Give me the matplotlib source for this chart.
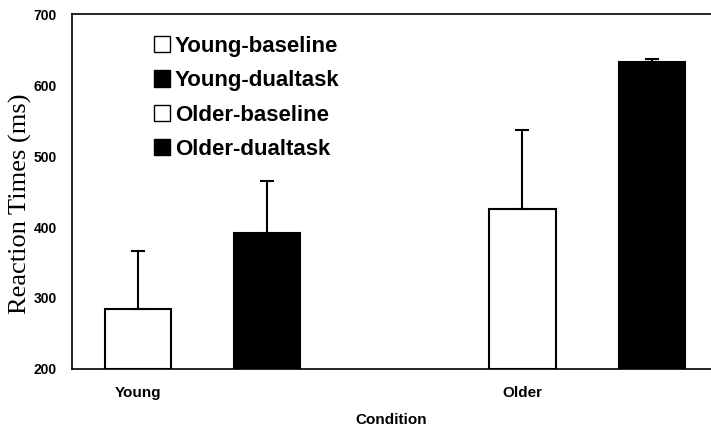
import matplotlib
matplotlib.use("Agg")
import matplotlib.pyplot as plt
from matplotlib.patches import Patch
import numpy as np

groups = ["Young", "Older"]
series = ["Young-baseline", "Young-dualtask", "Older-baseline", "Older-dualtask"]
means = [284, 391, 425, 632]
errors = [82, 74, 112, 5]
colors = ["white", "black", "white", "black"]
bar_group = [0, 0, 1, 1]
bar_offset = [-1, 1, -1, 1]
yticks = [200, 300, 400, 500, 600, 700]

fig = plt.figure(figsize=(7.11, 4.30), dpi=100)
ax = fig.add_axes([0.101, 0.142, 0.899, 0.825])

off = 0.168
width = 0.172
xs = [g + o * off for g, o in zip(bar_group, bar_offset)]
for x, m, e, c in zip(xs, means, errors, colors):
    ax.bar(x, m - 200, bottom=200, width=width, color=c, edgecolor="black", linewidth=1.5, zorder=2)
    ax.errorbar(x, m, yerr=[[0], [e]], fmt="none", ecolor="black", elinewidth=1.5, capsize=5, capthick=1.5, zorder=3)

ax.set_ylim(200, 700)
ax.set_xlim(-0.339, 1.322)
ax.set_yticks(yticks)
ax.set_yticklabels([str(t) for t in yticks], fontweight="bold", fontsize=10, family="Liberation Sans")
ax.tick_params(axis="y", length=0, pad=11)
ax.tick_params(axis="x", length=0, pad=12)
ax.set_xticks([g - off for g in range(len(groups))])
ax.set_xticklabels(groups, fontweight="bold", fontsize=11, family="Liberation Sans")
ax.spines["right"].set_visible(False)
for s in ["left", "top", "bottom"]:
    ax.spines[s].set_linewidth(1.2)
ax.set_ylabel("Reaction Times (ms)", family="Liberation Serif", fontsize=19)
ax.yaxis.set_label_coords(-0.081, 0.465)
ax.get_yaxis().label.set_verticalalignment("center")
ax.set_xlabel("Condition", fontweight="bold", fontsize=11, family="Liberation Sans", labelpad=10)

handles = [Patch(facecolor=c, edgecolor="black", linewidth=1) for c in colors]
leg = ax.legend(handles, series, loc="upper left", bbox_to_anchor=(0.114, 0.964), frameon=False,
                prop={"family": "Liberation Sans", "weight": "bold", "size": 16},
                handlelength=0.75, handleheight=0.75, handletextpad=0.2, labelspacing=0.6,
                borderaxespad=0)

fig.savefig("out.png", dpi=100)
